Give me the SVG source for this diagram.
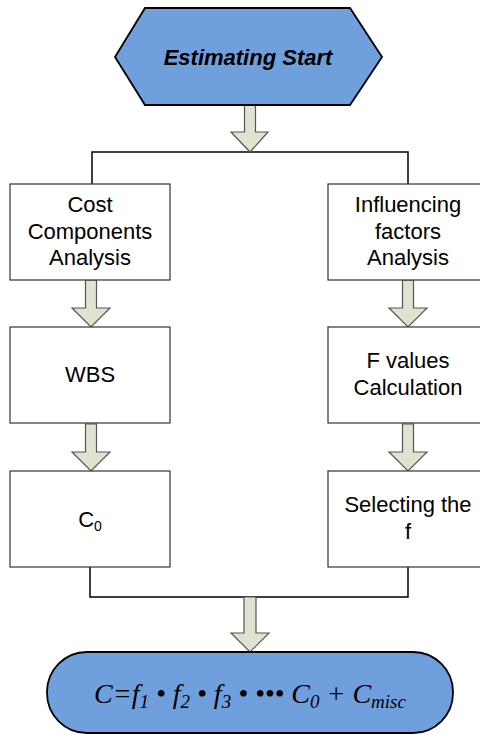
<svg xmlns="http://www.w3.org/2000/svg" width="480" height="734" viewBox="0 0 480 734">
<style>
.box{fill:#fff;stroke:#333;stroke-width:1.2}
.blue{fill:#6f9fdc;stroke:#000;stroke-width:1.8}
.t{font-family:"Liberation Sans",Arial,sans-serif;font-size:22px;fill:#000;text-anchor:middle}
.arr{fill:#dfe3cf;stroke:#555;stroke-width:1.2}
.ln{fill:none;stroke:#000;stroke-width:1.5}
.f{font-family:"Liberation Serif","Times New Roman",serif;font-style:italic;font-size:28px;fill:#000}
</style>
<defs>
<path id="arrow" d="M-5.5,0 H5.5 V28 H19 L0,47 L-19,28 H-5.5 Z"/>
</defs>
<g id="connectors">
<path class="ln" d="M92,184 V152 H408 V184"/>
<path class="ln" d="M90,567 V597 H408 V567"/>
<path class="arr" d="M244.5,105 H255.5 V132 H268 L250,152 L231,132 H244.5 Z"/>
<use href="#arrow" class="arr" transform="translate(91,280)"/>
<use href="#arrow" class="arr" transform="translate(91,424)"/>
<use href="#arrow" class="arr" transform="translate(408,280)"/>
<use href="#arrow" class="arr" transform="translate(408,424)"/>
<path class="arr" d="M244,597 H256 V633 H269 L250,652 L231,633 H244 Z"/>
</g>
<g id="start">
<polygon class="blue" points="115,57 145,8 350,8 382,57 350,105 145,105"/>
<text class="t" x="248" y="65" style="font-weight:bold;font-style:italic;font-size:22px">Estimating Start</text>
</g>
<g id="cost">
<rect class="box" x="10" y="184" width="160" height="96"/>
<text class="t" x="90" y="212">Cost</text>
<text class="t" x="90" y="239">Components</text>
<text class="t" x="90" y="265">Analysis</text>
</g>
<g id="influence">
<rect class="box" x="328" y="184" width="160" height="96"/>
<text class="t" x="408" y="212">Influencing</text>
<text class="t" x="408" y="239">factors</text>
<text class="t" x="408" y="265">Analysis</text>
</g>
<g id="wbs">
<rect class="box" x="10" y="327" width="160" height="96"/>
<text class="t" x="90" y="382">WBS</text>
</g>
<g id="fvalues">
<rect class="box" x="328" y="327" width="160" height="96"/>
<text class="t" x="408" y="368">F values</text>
<text class="t" x="408" y="395">Calculation</text>
</g>
<g id="c0">
<rect class="box" x="10" y="471" width="160" height="96"/>
<text class="t" x="90" y="527">C<tspan font-size="14" dy="4">0</tspan></text>
</g>
<g id="selecting">
<rect class="box" x="328" y="471" width="160" height="96"/>
<text class="t" x="408" y="512">Selecting the</text>
<text class="t" x="408" y="539">f</text>
</g>
<g id="result">
<rect class="blue" x="47" y="652" width="406" height="81" rx="40" ry="40"/>
<text class="f" x="250" y="703" text-anchor="middle">C=f<tspan font-size="19" dy="5">1</tspan><tspan dy="-5"> • f</tspan><tspan font-size="19" dy="5">2</tspan><tspan dy="-5"> • f</tspan><tspan font-size="19" dy="5">3</tspan><tspan dy="-5"> •  ••• C</tspan><tspan font-size="19" dy="5">0</tspan><tspan dy="-5"> + C</tspan><tspan font-size="19" dy="5">misc</tspan></text>
</g>
</svg>
